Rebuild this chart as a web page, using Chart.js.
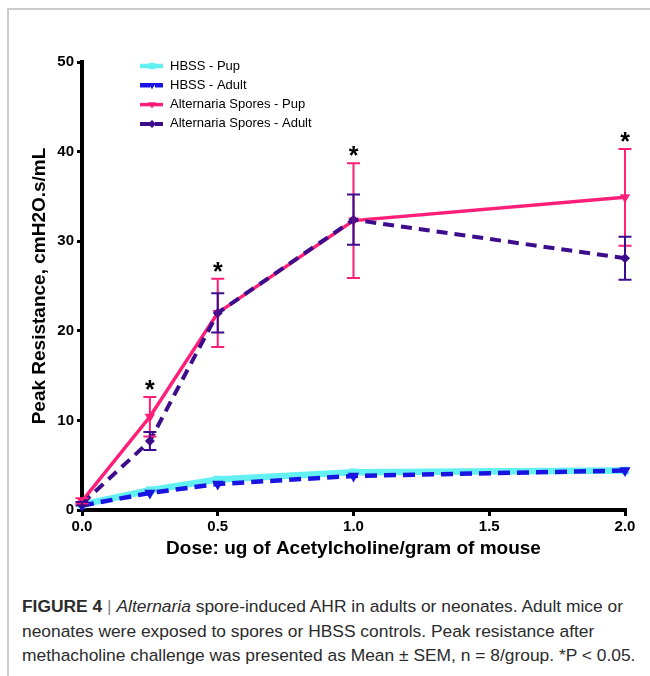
<!DOCTYPE html>
<html>
<head>
<meta charset="utf-8">
<script src="https://cdn.jsdelivr.net/npm/chart.js@4/dist/chart.umd.min.js"></script>
<style>
  html, body { margin: 0; padding: 0; background: #fff; }
  body { width: 650px; height: 676px; position: relative; overflow: hidden;
         font-family: 'Liberation Sans', Arial, sans-serif; }
  #frame { position: absolute; left: 7px; top: 8px; right: -10px; bottom: -10px;
           border-left: 2px solid #cbcbcb; border-top: 2px solid #cbcbcb; }
  #wrap { position: absolute; left: 0; top: 0; width: 650px; height: 580px; }
  #caption { position: absolute; left: 22px; top: 594px; font-size: 17.4px; line-height: 24.5px;
             color: #2b2b2b; white-space: nowrap; }
  #caption .bar { color: #888; }
</style>
</head>
<body>
<div id="frame"></div>
<div id="wrap"><canvas id="chart" width="650" height="580"></canvas></div>
<div id="caption"><b>FIGURE 4</b> <span class="bar">|</span> <i>Alternaria</i> spore-induced AHR in adults or neonates. Adult mice or<br>neonates were exposed to spores or HBSS controls. Peak resistance after<br>methacholine challenge was presented as Mean ± SEM, n = 8/group. *P &lt; 0.05.</div>

<script>
/* ─── Data ─── */
const doses     = [0, 0.25, 0.5, 1.0, 2.0];
const xTicks    = [0, 0.5, 1.0, 1.5, 2.0];
const yTicks    = [0, 10, 20, 30, 40, 50];

const hbssPup        = [0.6, 2.2, 3.4, 4.2, 4.4];
const hbssAdult      = [0.5, 1.9, 2.9, 3.8, 4.4];
const sporesPup      = [1.0, 10.4, 22.0, 32.3, 34.9];
const sporesPupSem   = [0.3, 2.2, 3.8, 6.4, 5.4];
const sporesAdult    = [0.7, 7.7, 22.0, 32.4, 28.1];
const sporesAdultSem = [0.2, 1.0, 2.2, 2.8, 2.4];

const sigDoses  = [0.25, 0.5, 1.0, 2.0];

/* ─── Styling ─── */
const FONT = "'Liberation Sans', Arial, sans-serif";
const COLORS = {
  cyan:   '#62f0f3',
  blue:   '#1a14e2',
  pink:   '#ff1f78',
  purple: '#3d0c8c',
};

function toXY(values) {
  return doses.map((d, i) => ({ x: d, y: values[i] }));
}

function series(label, values, color, opts) {
  return Object.assign({
    label,
    data: toXY(values),
    borderColor: color,
    backgroundColor: color,
    pointBackgroundColor: color,
    pointBorderColor: color,
    pointBorderWidth: 0,
    pointRadius: 5,
    tension: 0,
    clip: false,
  }, opts);
}

const datasets = [
  series('HBSS - Pup', hbssPup, COLORS.cyan,
    { borderWidth: 6.5, pointStyle: 'rect', pointRadius: 5.5, order: 4 }),
  series('HBSS - Adult', hbssAdult, COLORS.blue,
    { borderWidth: 4.5, borderDash: [12, 7], pointStyle: 'triangle', pointRotation: 180, pointRadius: 6.5, order: 3 }),
  series('Alternaria Spores - Pup', sporesPup, COLORS.pink,
    { borderWidth: 3.5, pointStyle: 'triangle', pointRotation: 180, pointRadius: 6, order: 2, sem: sporesPupSem }),
  series('Alternaria Spores - Adult', sporesAdult, COLORS.purple,
    { borderWidth: 4, borderDash: [11, 7], pointStyle: 'rectRot', pointRadius: 5, order: 1, sem: sporesAdultSem }),
];

/* ─── Marker helper (legend samples) ─── */
function drawMarker(ctx, style, x, y, r, color) {
  ctx.save();
  ctx.fillStyle = color;
  ctx.beginPath();
  if (style === 'rect') {
    ctx.rect(x - r * 0.8, y - r * 0.8, r * 1.6, r * 1.6);
  } else if (style === 'triangle') {
    ctx.moveTo(x - r, y - r * 0.6);
    ctx.lineTo(x + r, y - r * 0.6);
    ctx.lineTo(x, y + r);
  } else if (style === 'rectRot') {
    ctx.moveTo(x, y - r);
    ctx.lineTo(x + r, y);
    ctx.lineTo(x, y + r);
    ctx.lineTo(x - r, y);
  }
  ctx.closePath();
  ctx.fill();
  ctx.restore();
}

/* ─── Error bars + significance stars ─── */
const errorBarPlugin = {
  id: 'errorBars',
  afterDatasetsDraw(chart) {
    const { ctx, scales: { x, y } } = chart;
    ctx.save();
    chart.data.datasets.forEach(ds => {
      if (!ds.sem) return;
      ctx.strokeStyle = ds.borderColor;
      ctx.lineWidth = 2;
      ctx.setLineDash([]);
      ds.data.forEach((p, i) => {
        const px = x.getPixelForValue(p.x);
        const yu = y.getPixelForValue(p.y + ds.sem[i]);
        const yl = y.getPixelForValue(p.y - ds.sem[i]);
        ctx.beginPath();
        ctx.moveTo(px, yu); ctx.lineTo(px, yl);
        ctx.moveTo(px - 6.5, yu); ctx.lineTo(px + 6.5, yu);
        ctx.moveTo(px - 6.5, yl); ctx.lineTo(px + 6.5, yl);
        ctx.stroke();
      });
    });

    ctx.fillStyle = '#000';
    ctx.font = `bold 25px ${FONT}`;
    ctx.textAlign = 'center';
    ctx.textBaseline = 'alphabetic';
    sigDoses.forEach(d => {
      let top = 0;
      chart.data.datasets.forEach(ds => {
        if (!ds.sem) return;
        const i = doses.indexOf(d);
        top = Math.max(top, ds.data[i].y + ds.sem[i]);
      });
      ctx.fillText('*', x.getPixelForValue(d), y.getPixelForValue(top) + 1);
    });
    ctx.restore();
  },
};

/* ─── Legend drawn inside plot area ─── */
const innerLegend = {
  id: 'innerLegend',
  afterDraw(chart) {
    const ctx = chart.ctx;
    ctx.save();
    ctx.font = `13px ${FONT}`;
    ctx.textBaseline = 'middle';
    ctx.fillStyle = '#000';
    chart.data.datasets.forEach((ds, i) => {
      const y = 66 + i * 19.3;
      ctx.strokeStyle = ds.borderColor;
      ctx.lineWidth = Math.min(ds.borderWidth, 4.5);
      ctx.setLineDash(ds.borderDash ? [10, 5] : []);
      ctx.beginPath();
      ctx.moveTo(140, y); ctx.lineTo(163, y);
      ctx.stroke();
      drawMarker(ctx, ds.pointStyle, 152, y, 4, ds.borderColor);
      ctx.fillStyle = '#000';
      ctx.fillText(ds.label, 170, y);
    });
    ctx.restore();
  },
};

const axisFont  = { family: FONT, size: 15, weight: 'bold' };
const titleFont = { family: FONT, size: 19, weight: 'bold' };

new Chart(document.getElementById('chart'), {
  type: 'line',
  data: { datasets },
  options: {
    responsive: false,
    animation: false,
    devicePixelRatio: 1,
    layout: { padding: { top: 62, right: 25, left: 0, bottom: 0 } },
    plugins: {
      legend: { display: false },
      tooltip: { enabled: false },
    },
    scales: {
      x: {
        type: 'linear',
        min: 0,
        max: 2,
        afterBuildTicks: s => { s.ticks = xTicks.map(v => ({ value: v })); },
        afterFit: s => { s.height = 70; },
        border: { display: true, color: '#000', width: 4 },
        grid: { drawOnChartArea: false, drawTicks: true, tickLength: 6, color: '#000', lineWidth: 3 },
        ticks: { color: '#000', font: axisFont, padding: 2, maxRotation: 0, autoSkip: false,
                 callback: v => Number(v).toFixed(1) },
        title: { display: true, text: 'Dose: ug of Acetylcholine/gram of mouse', color: '#000',
                 font: titleFont, padding: { top: 0, bottom: 19.5 } },
      },
      y: {
        min: 0,
        max: 50,
        afterBuildTicks: s => { s.ticks = yTicks.map(v => ({ value: v })); },
        afterFit: s => { s.width = 82; },
        border: { display: true, color: '#000', width: 4 },
        grid: { drawOnChartArea: false, drawTicks: true, tickLength: 5, color: '#000', lineWidth: 3 },
        ticks: { color: '#000', font: axisFont, padding: 3, autoSkip: false,
                 callback: v => String(v) },
        title: { display: true, text: 'Peak Resistance, cmH2O.s/mL', color: '#000',
                 font: titleFont, padding: { top: 28.5, bottom: 0 } },
      },
    },
  },
  plugins: [errorBarPlugin, innerLegend],
});
</script>
</body>
</html>
